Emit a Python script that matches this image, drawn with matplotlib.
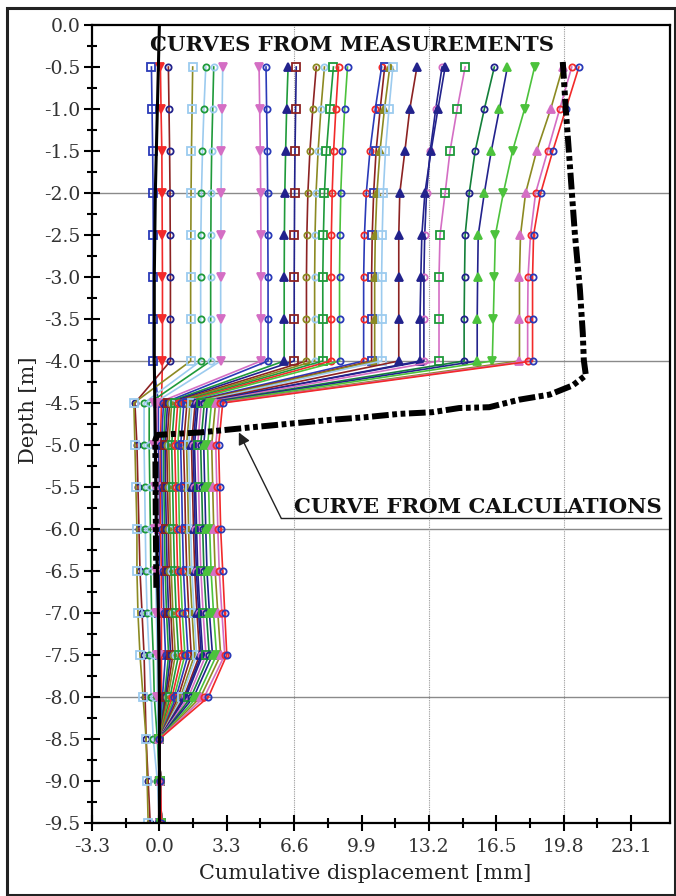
import matplotlib
matplotlib.use("Agg")
import matplotlib.pyplot as plt
from matplotlib.patches import Rectangle

plt.rcParams['axes.unicode_minus'] = False
plt.rcParams['font.family'] = ['DejaVu Serif']

# depths of the inclinometer readings [m]
depths = [-0.5, -1.0, -1.5, -2.0, -2.5, -3.0, -3.5, -4.0, -4.5, -5.0,
          -5.5, -6.0, -6.5, -7.0, -7.5, -8.0, -8.5, -9.0, -9.5]

# measured displacement, upper layer (depth -0.5 .. -4.0)
upper = [
    [-0.39, -0.36, -0.33, -0.31, -0.30, -0.30, -0.30, -0.30],
    [0.05, 0.08, 0.12, 0.13, 0.14, 0.15, 0.15, 0.15],
    [0.44, 0.47, 0.50, 0.52, 0.53, 0.54, 0.54, 0.54],
    [1.63, 1.60, 1.57, 1.55, 1.54, 1.53, 1.53, 1.53],
    [2.27, 2.18, 2.11, 2.06, 2.03, 2.02, 2.02, 2.02],
    [2.66, 2.61, 2.56, 2.53, 2.52, 2.51, 2.51, 2.51],
    [3.10, 3.07, 3.04, 3.02, 3.01, 3.00, 3.00, 3.00],
    [4.88, 4.91, 4.94, 4.96, 4.97, 4.97, 4.97, 4.97],
    [5.22, 5.25, 5.28, 5.30, 5.31, 5.32, 5.32, 5.32],
    [6.30, 6.23, 6.18, 6.14, 6.12, 6.11, 6.11, 6.11],
    [6.70, 6.67, 6.64, 6.62, 6.61, 6.60, 6.60, 6.60],
    [7.68, 7.51, 7.37, 7.27, 7.22, 7.20, 7.20, 7.20],
    [8.08, 7.91, 7.77, 7.67, 7.62, 7.60, 7.60, 7.60],
    [8.52, 8.34, 8.18, 8.08, 8.03, 8.00, 8.00, 8.00],
    [8.77, 8.64, 8.53, 8.46, 8.42, 8.40, 8.40, 8.40],
    [9.21, 9.07, 8.96, 8.88, 8.84, 8.82, 8.82, 8.82],
    [10.88, 10.57, 10.31, 10.13, 10.04, 10.00, 10.00, 10.00],
    [11.03, 10.81, 10.61, 10.49, 10.42, 10.39, 10.39, 10.39],
    [11.28, 11.02, 10.80, 10.65, 10.57, 10.54, 10.54, 10.54],
    [11.43, 11.24, 11.07, 10.96, 10.91, 10.88, 10.88, 10.88],
    [12.61, 12.26, 12.02, 11.77, 11.72, 11.72, 11.72, 11.72],
    [13.84, 13.53, 13.26, 13.08, 12.99, 12.95, 12.95, 12.95],
    [13.99, 13.64, 13.30, 13.00, 12.85, 12.80, 12.76, 12.76],
    [14.97, 14.58, 14.23, 13.99, 13.74, 13.69, 13.69, 13.69],
    [16.40, 15.91, 15.46, 15.17, 14.97, 14.94, 14.92, 14.92],
    [17.04, 16.65, 16.25, 15.91, 15.61, 15.58, 15.56, 15.56],
    [18.37, 17.88, 17.29, 16.84, 16.45, 16.40, 16.35, 16.30],
    [19.75, 19.16, 18.47, 17.93, 17.68, 17.63, 17.63, 17.63],
    [20.19, 19.60, 19.01, 18.42, 18.17, 18.05, 18.03, 18.03],
    [20.54, 19.90, 19.26, 18.67, 18.32, 18.27, 18.27, 18.27],
]

# measured displacement, lower layer (depth -4.5 .. -9.5)
lower = [
    [-0.05, -0.05, 0.00, 0.00, 0.00, 0.00, 0.05, 0.00, 0.00, 0.05, 0.05],
    [0.10, 0.05, 0.05, 0.05, 0.10, 0.10, 0.10, 0.10, 0.00, 0.05, 0.10],
    [-1.20, -1.10, -1.05, -1.00, -0.95, -0.85, -0.75, -0.70, -0.65, -0.55, -0.45],
    [-1.25, -1.20, -1.15, -1.10, -1.10, -1.05, -0.95, -0.80, -0.65, -0.60, -0.55],
    [-0.75, -0.75, -0.72, -0.69, -0.66, -0.60, -0.50, -0.40, -0.30, -0.10, 0.00],
    [-0.50, -0.50, -0.47, -0.44, -0.42, -0.38, -0.30, -0.25, -0.10, 0.00, 0.05],
    [-0.25, -0.25, -0.22, -0.20, -0.18, -0.15, -0.10, -0.10, -0.05, 0.00, 0.05],
    [-0.10, -0.15, -0.12, -0.10, -0.08, -0.05, 0.00, 0.00, 0.00, 0.05, 0.05],
    [0.20, 0.10, 0.12, 0.15, 0.17, 0.22, 0.30, 0.15, 0.00, 0.05, 0.10],
    [0.30, 0.20, 0.22, 0.25, 0.28, 0.35, 0.45, 0.25, 0.00, 0.05, 0.10],
    [0.40, 0.28, 0.30, 0.34, 0.38, 0.45, 0.55, 0.30, 0.00, 0.05, 0.10],
    [0.50, 0.36, 0.40, 0.44, 0.48, 0.56, 0.66, 0.35, 0.00, 0.05, 0.10],
    [0.60, 0.46, 0.50, 0.54, 0.58, 0.66, 0.78, 0.42, 0.00, 0.05, 0.10],
    [0.75, 0.60, 0.65, 0.69, 0.74, 0.82, 0.94, 0.52, 0.00, 0.05, 0.10],
    [0.90, 0.75, 0.80, 0.84, 0.89, 0.98, 1.10, 0.62, 0.00, 0.05, 0.10],
    [1.05, 0.90, 0.94, 0.98, 1.03, 1.12, 1.25, 0.72, 0.00, 0.05, 0.10],
    [1.20, 1.04, 1.09, 1.13, 1.18, 1.28, 1.40, 0.82, 0.00, 0.05, 0.10],
    [1.35, 1.18, 1.24, 1.28, 1.34, 1.44, 1.56, 0.92, 0.00, 0.05, 0.10],
    [1.50, 1.33, 1.38, 1.43, 1.49, 1.60, 1.72, 1.03, 0.00, 0.05, 0.10],
    [1.60, 1.43, 1.48, 1.53, 1.59, 1.70, 1.82, 1.10, 0.00, 0.05, 0.10],
    [1.75, 1.57, 1.62, 1.67, 1.73, 1.84, 1.97, 1.20, 0.00, 0.05, 0.10],
    [1.82, 1.65, 1.70, 1.75, 1.81, 1.92, 2.05, 1.25, 0.00, 0.05, 0.10],
    [1.90, 1.72, 1.77, 1.82, 1.88, 1.99, 2.12, 1.30, 0.00, 0.05, 0.10],
    [2.05, 1.87, 1.92, 1.97, 2.03, 2.14, 2.28, 1.42, 0.00, 0.05, 0.10],
    [2.20, 2.02, 2.07, 2.12, 2.18, 2.30, 2.44, 1.55, 0.00, 0.05, 0.10],
    [2.35, 2.17, 2.22, 2.27, 2.33, 2.45, 2.60, 1.68, 0.00, 0.05, 0.10],
    [2.55, 2.36, 2.41, 2.46, 2.53, 2.65, 2.80, 1.85, 0.00, 0.05, 0.10],
    [2.75, 2.56, 2.61, 2.66, 2.73, 2.86, 3.00, 2.02, 0.00, 0.05, 0.10],
    [2.95, 2.76, 2.81, 2.86, 2.93, 3.06, 3.20, 2.20, 0.00, 0.05, 0.10],
    [3.10, 2.90, 2.95, 3.00, 3.10, 3.20, 3.30, 2.40, 0.00, 0.05, 0.10],
]

NAVY = '#22228c'
RED = '#f22a2a'
OLIVE = '#8c8a22'
LBLUE = '#9ccbef'
GREEN = '#1f9a3a'
LIME = '#4cc23c'
PINK = '#d46ec4'
BROWN = '#8c2222'
BLUE = '#2a3ab8'
DGREEN = '#14803a'

line_colors = [BLUE, RED, BROWN, OLIVE, LBLUE, GREEN, LBLUE, PINK, BLUE, GREEN,
               NAVY, BROWN, OLIVE, GREEN, RED, LIME, BLUE, BROWN, OLIVE, LBLUE,
               BROWN, NAVY, NAVY, PINK, DGREEN, NAVY, LIME, OLIVE, PINK, RED]
markers = ['s', 'v', 'o', 's', 'o', 'o', 'v', 'v', 'o', '^',
           's', 'o', 'o', 's', 'o', 'o', 'o', 's', '^', 's',
           '^', 'o', '^', 's', 'o', '^', 'v', '^', 'o', 'o']
marker_colors = [BLUE, RED, NAVY, LBLUE, GREEN, LBLUE, PINK, PINK, BLUE, NAVY,
                 BROWN, OLIVE, LBLUE, GREEN, RED, BLUE, RED, BLUE, OLIVE, LBLUE,
                 NAVY, PINK, NAVY, GREEN, NAVY, LIME, LIME, PINK, RED, BLUE]

# near-zero reference line (black, solid)
ref_depth = [0.0, -1.0, -2.0, -3.0, -4.0, -5.0, -6.0, -7.0, -8.0, -9.0, -9.5]
ref_x = [0.0, -0.1, -0.2, -0.25, -0.25, -0.2, -0.15, -0.05, 0.0, 0.0, 0.0]

# calculated curve
calc_x = [19.75, 19.90, 20.14, 20.34, 20.59, 20.73, 20.78, 20.88, 20.24, 19.11,
          17.63, 16.15, 14.68, 13.35, 11.72, 10.05, 8.42, 4.48, 2.02, -0.10,
          -0.20, -0.18, -0.15]
calc_y = [-0.44, -1.01, -1.81, -2.48, -3.15, -3.67, -3.99, -4.17, -4.29, -4.40,
          -4.46, -4.55, -4.56, -4.61, -4.63, -4.67, -4.70, -4.79, -4.85, -4.88,
          -4.94, -5.8, -6.7]

x_ticks = [-3.3, 0.0, 3.3, 6.6, 9.9, 13.2, 16.5, 19.8, 23.1]
y_ticks = [0.0, -0.5, -1.0, -1.5, -2.0, -2.5, -3.0, -3.5, -4.0, -4.5, -5.0,
           -5.5, -6.0, -6.5, -7.0, -7.5, -8.0, -8.5, -9.0, -9.5]

fig = plt.figure(figsize=(6.76, 8.96), dpi=100)
ax = fig.add_axes([92/676, 1-823/896, 578/676, 798/896])

for v in [-2, -4, -6, -8]:
    ax.axhline(v, color='#8a8a8a', lw=1.0, zorder=0)
for v in [6.6, 13.2, 19.8]:
    ax.axvline(v, color='#9a9a9a', lw=0.8, ls=(0, (1, 1)), zorder=0)

for i in range(len(upper)):
    m = markers[i]
    if m in ('s', 'o'):
        face = 'none'
        size = 5.5 if m == 's' else 4.5
    else:
        face = marker_colors[i]
        size = 6
    ax.plot(upper[i] + lower[i], depths, color=line_colors[i], lw=1.2,
            marker=m, ms=size, mfc=face, mec=marker_colors[i], mew=1.3)

ax.plot(ref_x, ref_depth, color='black', lw=2.2)

ax.plot(calc_x, calc_y, color='black', lw=4.3, solid_capstyle='butt',
        dash_capstyle='butt', dashes=[2.8, 0.6, 0.8, 0.6, 0.8, 0.6])

ax.set_xlim(-3.3, 25.0)
ax.set_ylim(-9.5, 0.0)
ax.set_xticks(x_ticks)
ax.set_xticklabels(['%.1f' % v for v in x_ticks])
ax.set_xticks([-1.65, 1.65, 4.95, 8.25, 11.55, 14.85, 18.15, 21.45], minor=True)
ax.set_yticks(y_ticks)
ax.set_yticklabels(['%.1f' % v for v in y_ticks])
ax.set_yticks([-0.25 - 0.5 * k for k in range(19)], minor=True)
ax.tick_params(which='major', direction='inout', length=11, width=1.5,
               labelsize=13.5, labelcolor='#333333', pad=3)
ax.tick_params(which='minor', direction='inout', length=6.5, width=1.5)
ax.tick_params(axis='x', which='major', pad=5)
for s in ax.spines.values():
    s.set_linewidth(1.6)

ax.text(9.45, -0.24, 'CURVES FROM MEASUREMENTS', fontsize=15.3,
        fontweight='bold', ha='center', va='center', color='#111111')
ax.text(15.6, -5.74, 'CURVE FROM CALCULATIONS', fontsize=15.3,
        fontweight='bold', ha='center', va='center', color='#111111')
ax.plot([5.96, 24.58], [-5.87, -5.87], color='#222222', lw=1.0)
ax.annotate('', xy=(3.89, -4.85), xytext=(5.96, -5.87),
            arrowprops=dict(arrowstyle='-|>', color='#222222', lw=1.0,
                            mutation_scale=18, shrinkA=0, shrinkB=0))

fig.text(28/676, 1-410/896, 'Depth [m]', rotation=90, fontsize=15,
         ha='center', va='center', color='#222222')
fig.text(365/676, 1-873/896, 'Cumulative displacement [mm]', fontsize=15,
         ha='center', va='center', color='#222222')

fig.patches.append(Rectangle((7/676, 1/896), 668/676, 887/896,
                             transform=fig.transFigure, fill=False,
                             lw=2.2, ec='#222222'))

plt.savefig("out.png", dpi=100)
plt.close()
